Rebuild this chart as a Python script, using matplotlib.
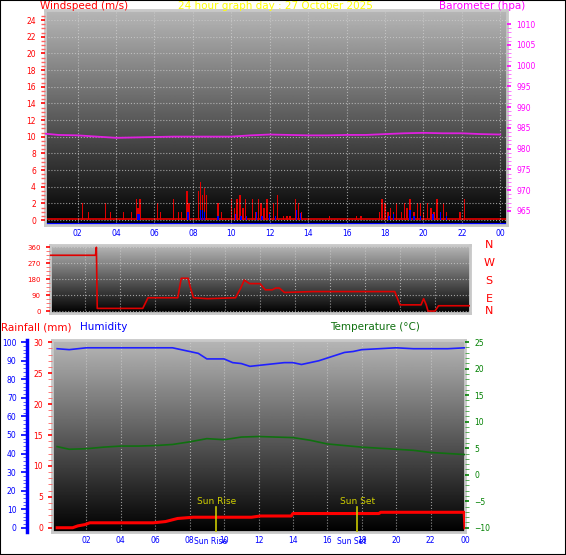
import matplotlib
matplotlib.use("Agg")
import matplotlib.pyplot as plt
import numpy as np

# ---------------- data ----------------
hour_ticks = [2, 4, 6, 8, 10, 12, 14, 16, 18, 20, 22, 24]
hour_labels = ["02", "04", "06", "08", "10", "12", "14", "16", "18", "20", "22", "00"]

gust_t = [2.25, 2.55, 3.45, 3.7, 4.4, 4.8, 5.05, 5.15, 5.25, 6.15, 6.3, 7.0, 7.25, 7.4, 7.7, 7.8,
          8.3, 8.4, 8.5, 8.6, 8.7, 9.3, 9.5, 10.0, 10.15, 10.3, 10.45, 10.6, 10.75, 11.1, 11.25,
          11.4, 11.55, 11.7, 11.85, 12.0, 12.2, 12.4, 12.7, 12.9, 13.05, 13.35, 13.5, 13.65,
          15.1, 16.5, 16.75, 17.7, 17.85, 18.0, 18.15, 18.3, 18.45, 18.6, 18.85, 19.0, 19.15,
          19.3, 19.5, 19.7, 19.85, 20.0, 20.2, 20.4, 20.55, 20.7, 20.9, 21.05, 21.2, 21.9, 22.15]
gust_v = [2.0, 1.0, 2.0, 1.0, 1.0, 1.0, 2.5, 1.5, 2.5, 2.0, 1.0, 2.5, 1.0, 1.0, 3.5, 2.0,
          3.5, 4.6, 3.0, 3.8, 3.0, 2.0, 1.0, 2.5, 1.5, 2.5, 3.0, 1.5, 2.5, 2.5, 1.0,
          2.5, 2.0, 1.5, 2.5, 1.0, 2.0, 3.0, 0.5, 0.5, 0.5, 2.5, 2.0, 1.0,
          0.5, 0.5, 0.5, 1.0, 2.5, 2.0, 1.0, 1.5, 1.0, 2.0, 1.0, 2.0, 1.5,
          2.5, 1.0, 2.0, 2.0, 1.0, 2.0, 1.5, 1.0, 2.5, 1.0, 2.0, 1.0, 1.0, 2.5]
avg_t = [5.1, 5.2, 7.75, 8.4, 8.5, 8.6, 9.3, 10.2, 10.5, 10.8, 11.3, 11.6, 12.0, 12.3, 13.4, 13.6,
         18.2, 18.45, 19.3, 19.5, 19.85, 20.5, 20.9, 21.2]
avg_v = [0.7, 0.7, 1.0, 1.2, 1.2, 1.0, 0.5, 0.7, 0.5, 0.5, 1.0, 0.5, 0.7, 0.5, 1.2, 0.8,
         0.5, 0.7, 1.2, 0.5, 0.5, 0.7, 1.0, 0.5]

baro_t = [0.3, 1, 2, 3, 4, 5, 6, 7, 8, 9, 10, 11, 12, 13, 14, 15, 16, 17, 18, 19, 20, 21, 22, 23, 24]
baro_v = [983.6, 983.3, 983.2, 982.9, 982.6, 982.7, 982.8, 982.9, 982.9, 982.9, 982.9, 983.2, 983.4,
          983.3, 983.2, 983.2, 983.3, 983.3, 983.5, 983.7, 983.8, 983.7, 983.7, 983.5, 983.4]

dir_t = [0.0, 2.6, 2.65, 2.7, 5.3, 5.6, 7.3, 7.5, 7.9, 8.0, 8.2, 9.0, 10.6, 10.9, 11.1, 11.4, 12.0,
         12.3, 12.7, 12.9, 13.1, 13.4, 15.0, 19.7, 20.0, 21.2, 21.35, 21.5, 21.6, 22.0, 22.2, 24.0]
dir_v = [315, 315, 360, 15, 15, 75, 75, 185, 185, 140, 75, 70, 75, 130, 175, 155, 155,
         120, 120, 130, 130, 105, 110, 110, 35, 35, 70, 35, 0, 0, 30, 30]

hum_t = [0.3, 1, 2, 4, 6, 7, 7.5, 8.5, 9, 9.5, 10, 10.5, 11, 11.5, 12, 12.5, 13, 13.5, 14, 14.5,
         15, 15.5, 16, 16.5, 17, 17.5, 18, 19, 20, 21, 22, 23, 24]
hum_v = [96.5, 96, 97, 97, 97, 97, 96, 94, 91, 91, 91, 89, 88.5, 87, 87.5, 88, 88.5, 89, 89,
         88, 89, 90, 91.5, 93, 94.5, 95, 96, 96.5, 97, 96.5, 96.5, 96.5, 97]

temp_t = [0.3, 1, 2, 3, 4, 5, 6, 7, 8, 9, 10, 11, 12, 13, 14, 15, 16, 17, 18, 19, 20, 21, 22, 23, 24]
temp_v = [5.3, 4.8, 4.9, 5.2, 5.4, 5.4, 5.5, 5.7, 6.2, 6.8, 6.6, 7.1, 7.2, 7.1, 7.0, 6.5, 5.8, 5.5,
          5.2, 5.0, 4.8, 4.6, 4.2, 4.0, 3.8]

rain_t = [0.3, 1.2, 1.5, 1.9, 2.2, 5.9, 6.6, 7.3, 8.2, 11.6, 12.1, 13.9, 14.0, 19.0, 19.1, 23.95, 24.0]
rain_v = [0.0, 0.0, 0.3, 0.5, 0.8, 0.8, 1.0, 1.5, 1.7, 1.7, 1.9, 1.9, 2.3, 2.3, 2.5, 2.5, 0.0]

sun_rise, sun_set = 9.55, 17.75

# ---------------- figure ----------------
W, H = 566, 555
fig = plt.figure(figsize=(W / 100, H / 100), dpi=100, facecolor="white")
fig.add_artist(plt.Rectangle((0, 0), 1, 1, transform=fig.transFigure, fill=False,
                             edgecolor="black", lw=1.5))
TFS = 5.5

grad = np.linspace(0.72, 0.0, 256).reshape(-1, 1)


def ax_at(x0, y0, x1, y1):
    return fig.add_axes([x0 / W, 1 - y1 / H, (x1 - x0) / W, (y1 - y0) / H])


def style(ax):
    ax.imshow(grad, cmap="gray", vmin=0, vmax=1, aspect="auto", extent=[0, 1, 0, 1],
              transform=ax.transAxes, zorder=0)
    for s in ax.spines.values():
        s.set_color("#c8c8c8")
        s.set_linewidth(2)
    ax.grid(True, color="#d0d0d0", ls=":", lw=0.8, alpha=0.7)
    ax.set_axisbelow(False)


def hours(ax, show):
    ax.set_xticks(hour_ticks)
    if show:
        ax.set_xticklabels(hour_labels, color="blue", fontsize=TFS)
    else:
        ax.set_xticklabels([])
    ax.tick_params(axis="x", length=0, pad=3)


# top panel
ax1 = ax_at(45, 10, 507, 225)
style(ax1)
ax1.set_xlim(0.3, 24.35)
ax1.set_ylim(-0.6, 25.2)
ax1.bar(gust_t, gust_v, width=0.07, color="#e00000", zorder=2)
ax1.bar(avg_t, avg_v, width=0.07, color="#0000ff", zorder=3)
ax1.axhline(0.15, color="#e00000", lw=1.2, zorder=2)
ax1.axhline(-0.45, color="#0000ff", lw=1.5, zorder=2)
ax1.set_yticks(range(0, 25, 2))
ax1.set_yticks(np.arange(0, 25, 0.5), minor=True)
ax1.tick_params(axis="y", colors="red", labelsize=TFS, length=3, width=1.2)
ax1.tick_params(axis="y", which="minor", colors="#ff6060", length=3, width=1)
hours(ax1, True)
ax1b = ax1.twinx()
ax1b.set_ylim(961.6, 1013.4)
ax1b.plot(baro_t, baro_v, color="#e020e0", lw=1.3)
ax1b.set_yticks(range(965, 1011, 5))
ax1b.set_yticks(np.arange(965, 1011, 1), minor=True)
ax1b.tick_params(axis="y", colors="#ff00ff", labelsize=TFS, length=3, width=1.2)
ax1b.tick_params(axis="y", which="minor", colors="#ff60ff", length=3)
for s in ax1b.spines.values():
    s.set_visible(False)
fig.text(40 / W, 1 - 6 / H, "Windspeed (m/s)", color="red", fontsize=7.5, va="center")
fig.text(275 / W, 1 - 6 / H, "24 hour graph day : 27 October 2025", color="yellow",
         fontsize=7.5, va="center", ha="center")
fig.text(525 / W, 1 - 6 / H, "Barometer (hpa)", color="#ff00ff", fontsize=7.5,
         va="center", ha="right")

# middle panel
ax2 = ax_at(50, 245, 470, 313)
style(ax2)
ax2.set_xlim(0, 24)
ax2.set_ylim(-11, 373)
ax2.plot(dir_t, dir_v, color="#e00000", lw=1.2, zorder=3)
ax2.set_yticks([0, 90, 180, 270, 360])
ax2.set_yticks(np.arange(0, 361, 22.5), minor=True)
ax2.tick_params(axis="y", colors="red", labelsize=TFS - 0.5, length=3, width=1.2)
ax2.tick_params(axis="y", which="minor", colors="#ff6060", length=3)
hours(ax2, False)
for lbl, yy in zip(["N", "W", "S", "E", "N"], [245, 263, 281, 299, 311]):
    fig.text(489 / W, 1 - yy / H, lbl, color="red", fontsize=8, ha="center", va="center")

# bottom panel
ax3 = ax_at(52, 340, 465, 532)
style(ax3)
ax3.set_xlim(0, 24)
ax3.set_ylim(-2.3, 101.2)
ax3.plot(hum_t, hum_v, color="#2020ff", lw=1.2, zorder=3)
ax3.set_yticks([])
hours(ax3, True)
# rain axis (left, red)
ax3r = ax3.twinx()
ax3r.set_ylim(-0.69, 30.37)
ax3r.yaxis.tick_left()
ax3r.plot(rain_t, rain_v, color="#ff0000", lw=2.2, zorder=4)
ax3r.set_yticks(range(0, 31, 5))
ax3r.set_yticks(range(0, 31, 1), minor=True)
ax3r.tick_params(axis="y", colors="red", labelsize=TFS, length=3, width=1.2)
ax3r.tick_params(axis="y", which="minor", colors="#ff6060", length=3)
for s in ax3r.spines.values():
    s.set_visible(False)
for st, lab in [(sun_rise, "Sun Rise"), (sun_set, "Sun Set")]:
    ax3r.plot([st, st], [-0.69, 3.4], color="#c8c800", lw=1.2, zorder=5)
    ax3r.text(st, 3.5, lab, color="#d0d000", fontsize=6.5, ha="center", va="bottom", zorder=5)
    ax3r.text(st - 0.35, -2.2, lab, color="blue", fontsize=TFS, ha="center", va="center",
              clip_on=False)
# temperature axis (right, green)
ax3t = ax3.twinx()
ax3t.set_ylim(-10.8, 25.4)
ax3t.plot(temp_t, temp_v, color="#107010", lw=1.2, zorder=3)
ax3t.set_yticks(range(-10, 26, 5))
ax3t.set_yticks(range(-10, 26, 1), minor=True)
ax3t.tick_params(axis="y", colors="green", labelsize=TFS, length=3, width=1.2)
ax3t.tick_params(axis="y", which="minor", colors="#40a040", length=3)
for s in ax3t.spines.values():
    s.set_visible(False)
# humidity axis (far left, blue)
ax3h = fig.add_axes([27 / W, 1 - 532 / H, 0.001, 192 / H])
ax3h.set_ylim(-2.3, 101.2)
ax3h.set_xticks([])
for k in ["top", "right", "bottom"]:
    ax3h.spines[k].set_visible(False)
ax3h.spines["left"].set_color("blue")
ax3h.spines["left"].set_linewidth(2.5)
ax3h.patch.set_visible(False)
ax3h.set_yticks(range(0, 101, 10))
ax3h.set_yticks(range(0, 101, 2), minor=True)
ax3h.tick_params(axis="y", colors="blue", labelsize=TFS, length=4, width=1.2)
ax3h.tick_params(axis="y", which="minor", colors="#4040ff", length=3)

fig.text(1 / W, 1 - 327 / H, "Rainfall (mm)", color="red", fontsize=7.5, va="center")
fig.text(80 / W, 1 - 327 / H, "Humidity", color="#0000ff", fontsize=7.5, va="center")
fig.text(420 / W, 1 - 327 / H, "Temperature (°C)", color="#107010", fontsize=7.5,
         va="center", ha="right")

fig.savefig("out.png", dpi=100, facecolor="white")
